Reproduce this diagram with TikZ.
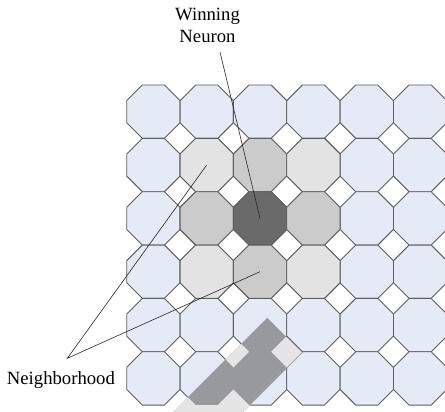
\documentclass[tikz,border=0pt]{standalone}
\usepackage{fontspec}
\setmainfont{Liberation Serif}
\definecolor{cellblue}{HTML}{E4EAF6}
\definecolor{nlight}{HTML}{E3E3E3}
\definecolor{nmid}{HTML}{CBCBCB}
\definecolor{ndark}{HTML}{6A6A6A}
\definecolor{edgegray}{HTML}{5E5E5E}
\definecolor{wmdark}{HTML}{97999C}
\definecolor{wmlight}{HTML}{E5E5E5}
\tikzset{
  cell/.style={draw=edgegray, line width=0.9pt, line join=miter},
  lbl/.style={font=\fontsize{18.7}{22}\selectfont, inner sep=0pt},
  pointer/.style={draw=black!85, line width=0.6pt}
}
\newcommand\octa[3]{%
  \pgfmathsetmacro\oL{126.7+#1*53.35}%
  \pgfmathsetmacro\oT{85+#2*53.35}%
  \draw[cell, fill=#3] (\oL+15.63,\oT) -- (\oL+37.72,\oT) -- (\oL+53.35,\oT+15.63)
    -- (\oL+53.35,\oT+37.72) -- (\oL+37.72,\oT+53.35) -- (\oL+15.63,\oT+53.35)
    -- (\oL,\oT+37.72) -- (\oL,\oT+15.63) -- cycle;}
\begin{document}
\begin{tikzpicture}[x=1pt,y=-1pt]
\useasboundingbox (0,0) rectangle (445,412);
\begin{scope}
\clip (0,0) rectangle (445,412);
% grid of octagons
\foreach \i in {0,...,5}{
  \foreach \j in {0,...,5}{
    \octa{\i}{\j}{cellblue}
  }
}
% neighbourhood
\octa{1}{1}{nlight}
\octa{2}{1}{nmid}
\octa{3}{1}{nlight}
\octa{1}{2}{nmid}
\octa{2}{2}{ndark}
\octa{3}{2}{nmid}
\octa{1}{3}{nlight}
\octa{2}{3}{nmid}
\octa{3}{3}{nlight}
% watermark band
\begin{scope}
  \clip (267.2,317.8) -- (302.2,352.8) -- (235,420) -- (165,420) -- cycle;
  \fill[wmdark] (150,300) rectangle (320,420);
  \fill[wmlight] (150,405.1) rectangle (320,420);
  \foreach \i in {0,...,6}{
    \foreach \j in {0,...,6}{
      \fill[wmlight] (126.7+\i*53.35,85+\j*53.35-15.63) -- (126.7+\i*53.35+15.63,85+\j*53.35)
        -- (126.7+\i*53.35,85+\j*53.35+15.63) -- (126.7+\i*53.35-15.63,85+\j*53.35) -- cycle;
    }
  }
\end{scope}
\end{scope}
% labels
\node[lbl, anchor=base] (winA) at (207.5,20.5) {Winning};
\node[lbl, anchor=base] (winB) at (207.5,42.5) {Neuron};
\node[lbl, anchor=base west] (nbh) at (6.7,384.3) {Neighborhood};
% pointer ends
\coordinate (wstart) at (220,52);
\coordinate (wend) at (260,218.4);
\coordinate (napex) at (67.3,358.3);
\coordinate (nendA) at (206.7,165);
\coordinate (nendB) at (260,271.7);
\draw[pointer] (wstart) -- (wend);
\draw[pointer] (nendA) -- (napex) -- (nendB);
\end{tikzpicture}
\end{document}
